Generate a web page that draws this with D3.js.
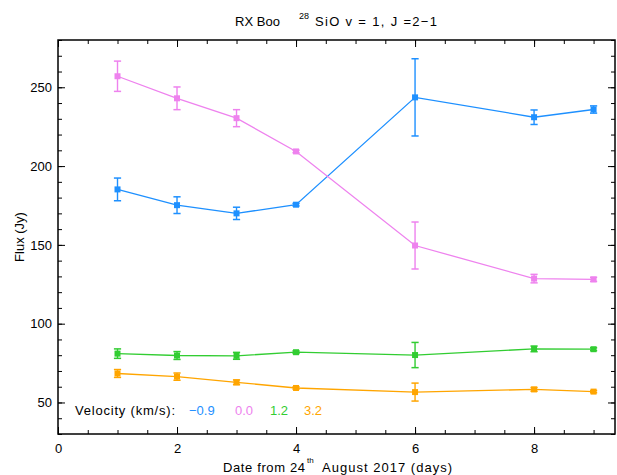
<!DOCTYPE html>
<html><head><meta charset="utf-8">
<script src="https://cdn.jsdelivr.net/npm/d3@7"></script>
<style>
body{margin:0;background:#fff;}
text{font-family:"Liberation Sans",Arial,sans-serif;}
</style></head>
<body><svg id="chart" width="617" height="475"></svg>
<script>
// ---- data ----
const days = [1, 2, 3, 4, 6, 8, 9];
const velocities = ["\u22120.9", "0.0", "1.2", "3.2"];
const fluxM09 = [185.2, 175.2, 170.0, 175.5, 243.6, 231.0, 235.9];
const errM09  = [7.2, 5.3, 3.9, 0.8, 24.5, 4.6, 2.3];
const flux00  = [257.0, 243.0, 230.4, 209.3, 149.6, 128.6, 128.1];
const err00   = [9.6, 7.2, 5.4, 0.8, 14.9, 2.7, 1.3];
const flux12  = [81.0, 79.8, 79.6, 81.9, 80.1, 84.0, 83.8];
const err12   = [3.0, 2.5, 2.2, 0.8, 8.0, 1.8, 0.9];
const flux32  = [68.4, 66.4, 62.8, 59.2, 56.6, 58.3, 56.9];
const err32   = [2.5, 2.3, 1.5, 0.7, 5.7, 1.2, 0.7];
const xMajorTicks = [0, 2, 4, 6, 8];
const yMajorTicks = [50, 100, 150, 200, 250];

const colors = ["#1e90ff", "#ee82ee", "#32cd32", "#ffa500"];
const series = [
  {flux: fluxM09, err: errM09},
  {flux: flux00, err: err00},
  {flux: flux12, err: err12},
  {flux: flux32, err: err32}
];

const svg = d3.select("#chart");
const L = 58, R = 615, T = 40, B = 434;
const x = d3.scaleLinear().domain([0, 9.36]).range([L, R]);
const y = d3.scaleLinear().domain([30, 280]).range([B, T]);

// axes (ticks inward)
const xMinor = d3.range(0, 9.36, 0.5);
const yMinor = d3.range(30, 281, 10);
function axisG(axis, tx, ty){
  const g = svg.append("g").attr("transform", `translate(${tx},${ty})`).call(axis);
  g.select(".domain").remove();
  g.selectAll("line").attr("stroke", "#000").attr("stroke-width", 1);
  g.selectAll("text").attr("font-size", 13).attr("fill", "#000")
    .style("font-family", '"Liberation Sans",Arial,sans-serif');
  return g;
}
axisG(d3.axisBottom(x).tickValues(xMinor).tickSizeInner(-4).tickSizeOuter(0).tickFormat(""), 0, B);
axisG(d3.axisTop(x).tickValues(xMinor).tickSizeInner(-4).tickSizeOuter(0).tickFormat(""), 0, T);
axisG(d3.axisBottom(x).tickValues(xMajorTicks).tickSizeInner(-7).tickSizeOuter(0).tickPadding(10).tickFormat(d3.format("d")), 0, B);
axisG(d3.axisTop(x).tickValues(xMajorTicks).tickSizeInner(-7).tickSizeOuter(0).tickFormat(""), 0, T);
axisG(d3.axisLeft(y).tickValues(yMinor).tickSizeInner(-4).tickSizeOuter(0).tickFormat(""), L, 0);
axisG(d3.axisRight(y).tickValues(yMinor).tickSizeInner(-4).tickSizeOuter(0).tickFormat(""), R, 0);
axisG(d3.axisLeft(y).tickValues(yMajorTicks).tickSizeInner(-7).tickSizeOuter(0).tickPadding(6).tickFormat(d3.format("d")), L, 0);
axisG(d3.axisRight(y).tickValues(yMajorTicks).tickSizeInner(-7).tickSizeOuter(0).tickFormat(""), R, 0);

svg.append("rect").attr("x", L).attr("y", T).attr("width", R - L).attr("height", B - T)
  .attr("fill", "none").attr("stroke", "#000").attr("stroke-width", 1.5);

// series
const line = d3.line().x((d, i) => x(days[i])).y(d => y(d));
series.forEach((s, k) => {
  const c = colors[k];
  const g = svg.append("g");
  g.append("path").datum(s.flux).attr("d", line).attr("fill", "none")
    .attr("stroke", c).attr("stroke-width", 1.3);
  s.flux.forEach((v, i) => {
    const cx = x(days[i]), y1 = y(v + s.err[i]), y0 = y(v - s.err[i]);
    g.append("line").attr("x1", cx).attr("x2", cx).attr("y1", y1).attr("y2", y0)
      .attr("stroke", c).attr("stroke-width", 1.4);
    [y1, y0].forEach(yy => g.append("line").attr("x1", cx - 3.6).attr("x2", cx + 3.6)
      .attr("y1", yy).attr("y2", yy).attr("stroke", c).attr("stroke-width", 1.5));
    g.append("rect").attr("x", cx - 3).attr("y", y(v) - 3).attr("width", 6).attr("height", 6)
      .attr("fill", c);
  });
});

// title
const title = svg.append("g");
title.append("text").attr("x", 235).attr("y", 25.5).attr("font-size", 13).text("RX Boo")
  .attr("textLength", 45).attr("lengthAdjust", "spacing");
title.append("text").attr("x", 299).attr("y", 18.5).attr("font-size", 9).text("28");
title.append("text").attr("x", 315).attr("y", 25.5).attr("font-size", 13)
  .attr("textLength", 122).attr("lengthAdjust", "spacing").text("SiO v = 1, J =2\u22121");

// axis labels
svg.append("text").attr("x", 223).attr("y", 472).attr("font-size", 13)
  .attr("textLength", 82).attr("lengthAdjust", "spacing").text("Date from 24");
svg.append("text").attr("x", 307).attr("y", 462.5).attr("font-size", 8).text("th");
svg.append("text").attr("x", 322).attr("y", 472).attr("font-size", 13)
  .attr("textLength", 130).attr("lengthAdjust", "spacing").text("August 2017 (days)");
svg.append("text").attr("transform", "translate(23.5,237) rotate(-90)")
  .attr("text-anchor", "middle").attr("font-size", 13).text("Flux (Jy)");

// legend
svg.append("text").attr("x", 75).attr("y", 415).attr("font-size", 13)
  .attr("textLength", 100).attr("lengthAdjust", "spacing").text("Velocity (km/s):");
const legX = [189, 235, 270, 304];
velocities.forEach((v, k) => {
  svg.append("text").attr("x", legX[k]).attr("y", 415).attr("font-size", 13)
    .attr("fill", colors[k]).text(v);
});
</script></body></html>
